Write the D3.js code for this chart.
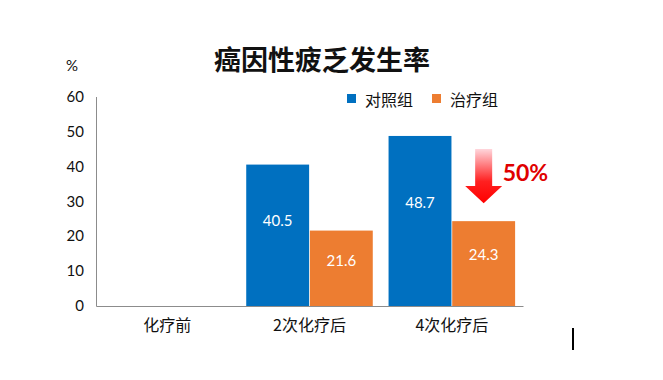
<!DOCTYPE html>
<html>
<head>
<meta charset="utf-8">
<script src="https://cdn.jsdelivr.net/npm/d3@7"></script>
<style>
  html, body { margin: 0; padding: 0; background: #fff; }
  svg { display: block; }
</style>
</head>
<body>
<svg id="chart" width="663" height="380"></svg>
<script>
const title = "癌因性疲乏发生率";
const categories = ["化疗前", "2次化疗后", "4次化疗后"];
const seriesNames = ["对照组", "治疗组"];
const controlValues = [null, 40.5, 48.7];
const treatmentValues = [null, 21.6, 24.3];
const yTicks = [0, 10, 20, 30, 40, 50, 60];
const unitLabel = "%";
const reductionLabel = "50%";
const colors = ["#0070C0", "#ED7D31"];

const svg = d3.select("#chart");
const cjk = "'Noto Sans CJK SC', 'Noto Sans', sans-serif";
const numFont = "Lato, 'Open Sans', sans-serif";

const plotLeft = 96, plotRight = 523, plotTop = 96.5, plotBottom = 306;

const x0 = d3.scaleBand().domain(categories).range([plotLeft, plotRight]).padding(0);
const x1 = d3.scaleBand().domain(seriesNames).range([0, x0.bandwidth()])
  .paddingInner(0.012).paddingOuter(0.124);
const y = d3.scaleLinear().domain([0, 60]).range([plotBottom, plotTop]);

// Title
svg.append("text").attr("x", 322).attr("y", 58)
  .attr("text-anchor", "middle").attr("dominant-baseline", "central")
  .style("font-family", cjk).style("font-size", "27px").style("font-weight", "700")
  .attr("fill", "#111").text(title);

// Y axis
const yAxis = d3.axisLeft(y).tickValues(yTicks).tickSize(0).tickPadding(12);
const yg = svg.append("g").attr("transform", `translate(${plotLeft},0)`).call(yAxis);
yg.select(".domain").attr("stroke", "#8c8c8c").attr("stroke-width", 1);
yg.selectAll("text").style("font-family", numFont).style("font-size", "15px").attr("fill", "#111");

svg.append("text").attr("x", 72).attr("y", 65).attr("text-anchor", "middle")
  .attr("dominant-baseline", "central")
  .style("font-family", numFont).style("font-size", "15px").attr("fill", "#111").text(unitLabel);

// Data
const data = categories.map((c, i) => ({
  cat: c,
  vals: [
    { s: seriesNames[0], v: controlValues[i], c: colors[0] },
    { s: seriesNames[1], v: treatmentValues[i], c: colors[1] }
  ].filter(d => d.v != null)
}));

const groups = svg.append("g").selectAll("g").data(data).join("g")
  .attr("transform", d => `translate(${x0(d.cat)},0)`);

groups.selectAll("rect").data(d => d.vals).join("rect")
  .attr("x", d => x1(d.s)).attr("width", x1.bandwidth())
  .attr("y", d => y(d.v)).attr("height", d => y(0) - y(d.v))
  .attr("fill", d => d.c);

groups.selectAll("text.val").data(d => d.vals).join("text").attr("class", "val")
  .attr("x", d => x1(d.s) + x1.bandwidth() / 2)
  .attr("y", d => y(d.v * 0.61))
  .attr("text-anchor", "middle").attr("dominant-baseline", "central")
  .style("font-family", numFont).style("font-size", "15px").attr("fill", "#fff")
  .text(d => d.v.toFixed(1));

// X axis
const xAxis = d3.axisBottom(x0).tickSize(0).tickPadding(14);
const xg = svg.append("g").attr("transform", `translate(0,${plotBottom})`).call(xAxis);
xg.select(".domain").attr("stroke", "#8c8c8c").attr("stroke-width", 1);
xg.selectAll("text").style("font-family", cjk).style("font-size", "16px").attr("fill", "#111");

// Legend
const legend = svg.append("g");
const legX = [347, 432];
seriesNames.forEach((n, i) => {
  legend.append("rect").attr("x", legX[i]).attr("y", 94).attr("width", 9).attr("height", 9).attr("fill", colors[i]);
  legend.append("text").attr("x", legX[i] + 18).attr("y", 98.5)
    .attr("dominant-baseline", "central")
    .style("font-family", cjk).style("font-size", "16px").attr("fill", "#111").text(n);
});

// Arrow annotation
const defs = svg.append("defs");
const grad = defs.append("linearGradient").attr("id", "arrowGrad")
  .attr("x1", 0).attr("y1", 0).attr("x2", 0).attr("y2", 1);
grad.append("stop").attr("offset", "0%").attr("stop-color", "#FFD6DC");
grad.append("stop").attr("offset", "60%").attr("stop-color", "#FF2020");
grad.append("stop").attr("offset", "100%").attr("stop-color", "#FF0000");

const ax = x0(categories[2]) + x1(seriesNames[1]) + x1.bandwidth() / 2;
const aTop = y(48.7) + 13, aHeadTop = y(48.7) + 50, aTip = y(24.3) - 18;
const sw = 8.5, hw = 18.5;
svg.append("path")
  .attr("d", `M${ax - sw},${aTop} L${ax + sw},${aTop} L${ax + sw},${aHeadTop} L${ax + hw},${aHeadTop} L${ax},${aTip} L${ax - hw},${aHeadTop} L${ax - sw},${aHeadTop} Z`)
  .attr("fill", "url(#arrowGrad)");

svg.append("text").attr("x", ax + 19).attr("y", 172)
  .attr("dominant-baseline", "central")
  .style("font-family", numFont).style("font-size", "23px").style("font-weight", "700")
  .attr("fill", "#E00000").text(reductionLabel);

// text cursor artifact
svg.append("line").attr("x1", 573).attr("x2", 573).attr("y1", 328).attr("y2", 350)
  .attr("stroke", "#000").attr("stroke-width", 2);
</script>
</body>
</html>
